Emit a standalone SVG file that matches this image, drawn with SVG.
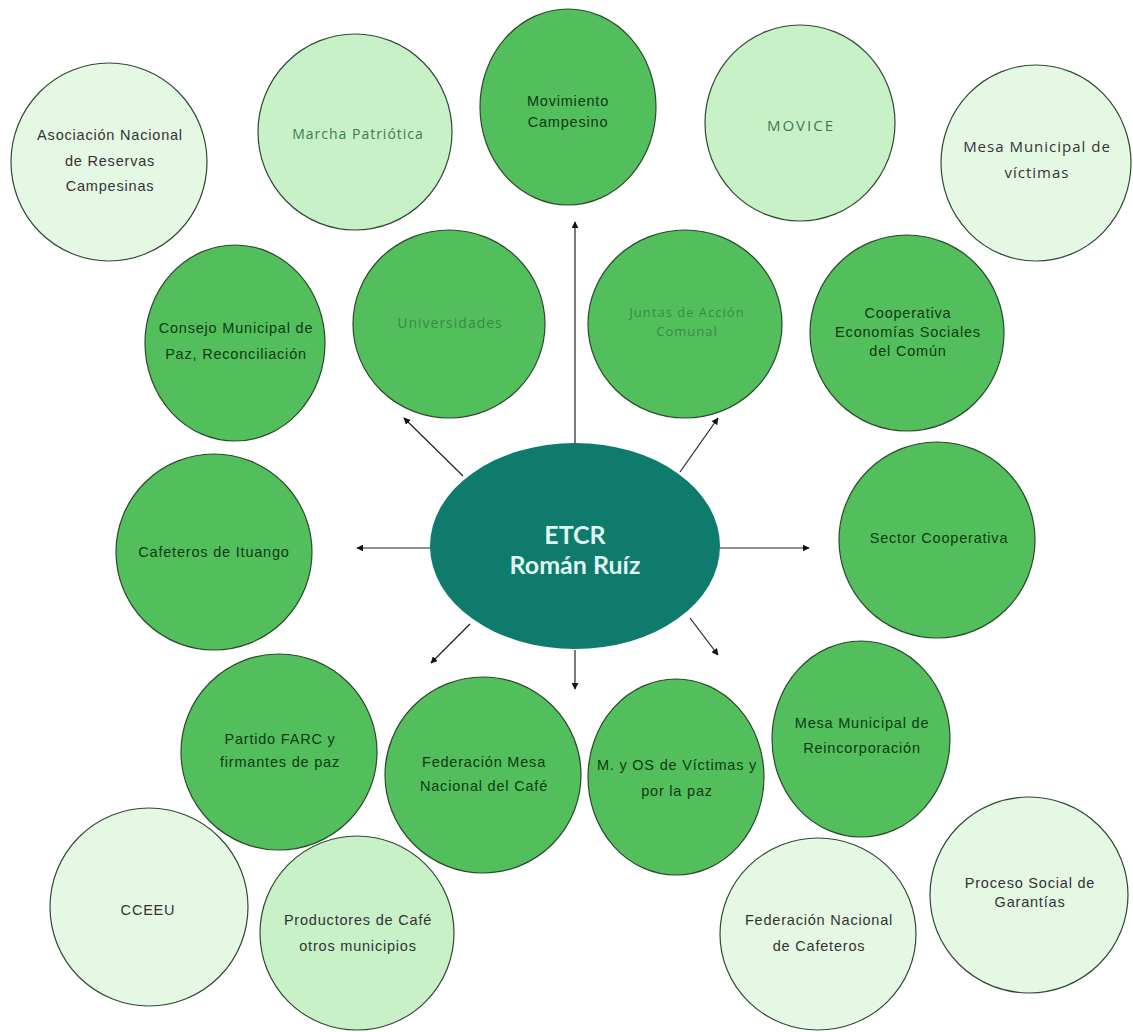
<svg xmlns="http://www.w3.org/2000/svg" width="1133" height="1032" viewBox="0 0 1133 1032">
<style>
.dk{fill:#52bf5c;stroke:#2b4a2e;stroke-width:1.2}
.md{fill:#c8f1c8;stroke:#2f4a33;stroke-width:1.2}
.lt{fill:#e5f8e3;stroke:#2f4a33;stroke-width:1.2}
text{font-family:"Liberation Sans",Arial,sans-serif;font-size:14.5px;letter-spacing:0.8px;text-anchor:middle;dominant-baseline:central}
.t1{fill:#0f3a13}
.t2{fill:#333}
.t3{fill:#3f7a52;font-family:"Open Sans","Liberation Sans",sans-serif;font-size:14px;letter-spacing:1px}
.t4{fill:#3a8a47;font-family:"Open Sans","Liberation Sans",sans-serif;font-size:14px;letter-spacing:1px}
.et{fill:#dff7f1;font-family:Lato,"Open Sans",sans-serif;font-weight:bold;font-size:25px;letter-spacing:0}
.c{fill:none;stroke:#222;stroke-width:1.2;marker-end:url(#ah)}
</style>
<defs>
<marker id="ah" viewBox="0 0 10 10" refX="9" refY="5" markerWidth="7" markerHeight="7" orient="auto" markerUnits="userSpaceOnUse">
<path d="M0,0 L10,5 L0,10 z" fill="#111"/>
</marker>
</defs>
<rect width="1133" height="1032" fill="#ffffff"/>
<g id="connectors">
<line class="c" x1="575" y1="443" x2="575" y2="222"/>
<line class="c" x1="463" y1="476" x2="404" y2="418"/>
<line class="c" x1="680" y1="472" x2="718" y2="418"/>
<line class="c" x1="431" y1="548" x2="357" y2="548"/>
<line class="c" x1="720" y1="548" x2="809" y2="548"/>
<line class="c" x1="470" y1="624" x2="431" y2="663"/>
<line class="c" x1="575" y1="650" x2="575" y2="689"/>
<line class="c" x1="690" y1="618" x2="718" y2="655"/>
</g>
<g id="n-asociacion"><ellipse class="lt" cx="109" cy="162" rx="98" ry="99"/><text class="t2" x="110" y="135">Asociación Nacional</text><text class="t2" x="110" y="161">de Reservas</text><text class="t2" x="110" y="186">Campesinas</text></g>
<g id="n-marcha"><ellipse class="md" cx="355" cy="132" rx="97" ry="98"/><text class="t3" x="358" y="133">Marcha Patriótica</text></g>
<g id="n-movimiento"><ellipse class="dk" cx="568" cy="107" rx="88" ry="98"/><text class="t1" x="568" y="101">Movimiento</text><text class="t1" x="568" y="122">Campesino</text></g>
<g id="n-movice"><ellipse class="md" cx="800" cy="123" rx="95" ry="98"/><text class="t3" x="801" y="125" style="font-size:15px;letter-spacing:2px">MOVICE</text></g>
<g id="n-mesa-victimas"><ellipse class="lt" cx="1036" cy="163" rx="95" ry="98"/><text class="t3" x="1037" y="146" style="fill:#333;font-size:15px">Mesa Municipal de</text><text class="t3" x="1037" y="172" style="fill:#333;font-size:15px">víctimas</text></g>
<g id="n-consejo"><ellipse class="dk" cx="235" cy="343" rx="90" ry="98"/><text class="t1" x="236" y="328">Consejo Municipal de</text><text class="t1" x="236" y="354">Paz, Reconciliación</text></g>
<g id="n-universidades"><ellipse class="dk" cx="449" cy="324" rx="96" ry="94"/><text class="t4" x="450" y="322">Universidades</text></g>
<g id="n-juntas"><ellipse class="dk" cx="685" cy="324" rx="97" ry="94"/><text class="t4" x="687" y="312" style="font-size:13px">Juntas de Acción</text><text class="t4" x="687" y="331" style="font-size:13px">Comunal</text></g>
<g id="n-cooperativa"><ellipse class="dk" cx="907" cy="333" rx="97" ry="98"/><text class="t1" x="908" y="313">Cooperativa</text><text class="t1" x="908" y="332">Economías Sociales</text><text class="t1" x="908" y="351">del Común</text></g>
<g id="n-cafeteros"><ellipse class="dk" cx="214" cy="552" rx="98" ry="98"/><text class="t1" x="214" y="552">Cafeteros de Ituango</text></g>
<g id="n-sector"><ellipse class="dk" cx="937" cy="540" rx="98" ry="98"/><text class="t1" x="939" y="538">Sector Cooperativa</text></g>
<g id="n-etcr"><ellipse cx="575" cy="546" rx="145" ry="103" fill="#0e7b6c"/><text class="et" x="575" y="534">ETCR</text><text class="et" x="575" y="564">Román Ruíz</text></g>
<g id="n-partido"><ellipse class="dk" cx="279" cy="752" rx="98" ry="98"/><text class="t1" x="280" y="739">Partido FARC y</text><text class="t1" x="280" y="762">firmantes de paz</text></g>
<g id="n-federacion-mesa"><ellipse class="dk" cx="483" cy="775" rx="98" ry="98"/><text class="t1" x="484" y="762">Federación Mesa</text><text class="t1" x="484" y="786">Nacional del Café</text></g>
<g id="n-myos"><ellipse class="dk" cx="676" cy="777" rx="88" ry="98"/><text class="t1" x="677" y="765">M. y OS de Víctimas y</text><text class="t1" x="677" y="791">por la paz</text></g>
<g id="n-mesa-reinc"><ellipse class="dk" cx="861" cy="739" rx="89" ry="98"/><text class="t1" x="862" y="723">Mesa Municipal de</text><text class="t1" x="862" y="748">Reincorporación</text></g>
<g id="n-cceeu"><ellipse class="lt" cx="149" cy="907" rx="99" ry="99"/><text class="t2" x="148" y="910">CCEEU</text></g>
<g id="n-productores"><ellipse class="md" cx="357" cy="933" rx="97" ry="97"/><text class="t2" x="358" y="920">Productores de Café</text><text class="t2" x="358" y="946">otros municipios</text></g>
<g id="n-fnc"><ellipse class="lt" cx="818" cy="934" rx="98" ry="96"/><text class="t2" x="819" y="920">Federación Nacional</text><text class="t2" x="819" y="946">de Cafeteros</text></g>
<g id="n-proceso"><ellipse class="lt" cx="1029" cy="895" rx="99" ry="98"/><text class="t2" x="1030" y="883">Proceso Social de</text><text class="t2" x="1030" y="902">Garantías</text></g>
</svg>
